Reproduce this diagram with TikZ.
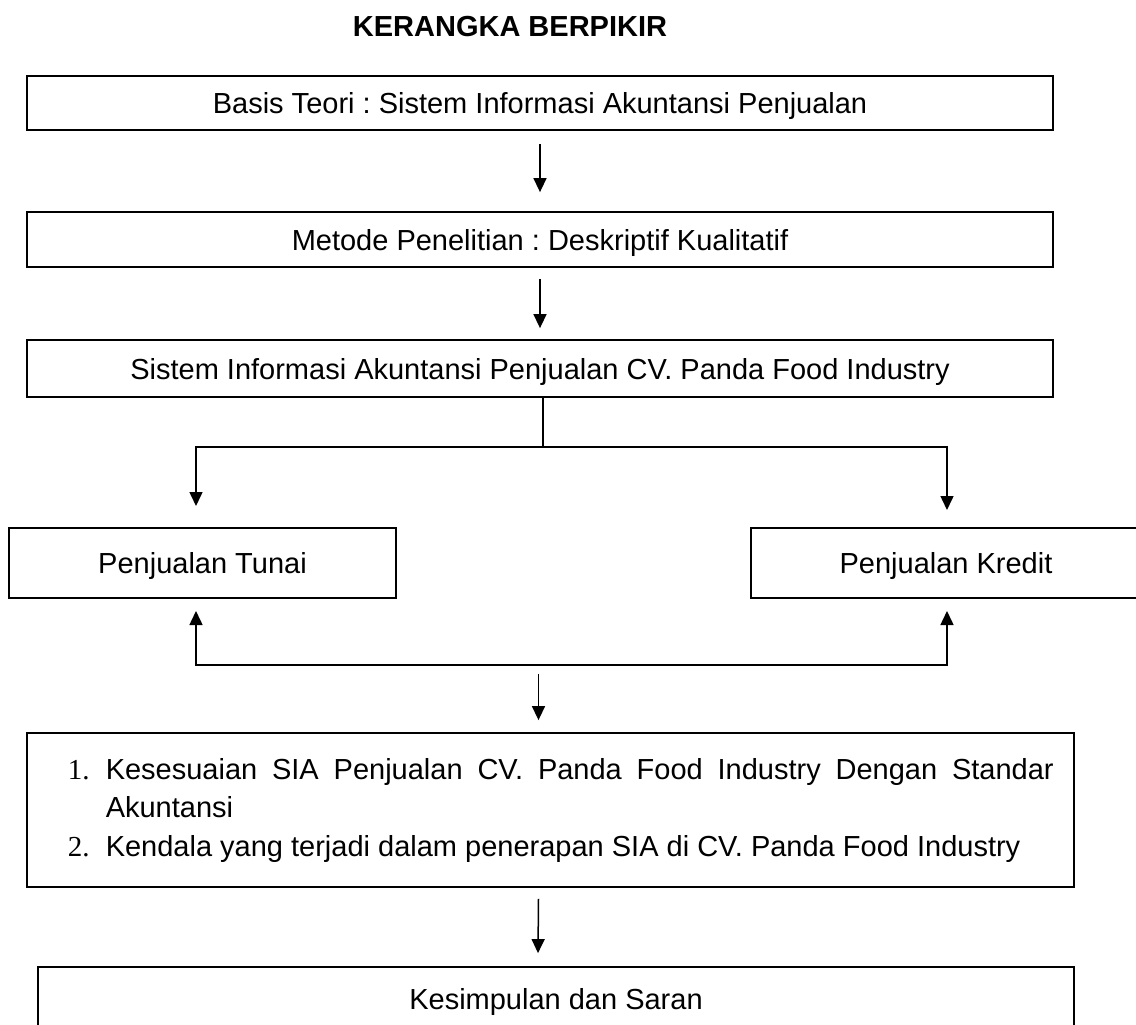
\documentclass[tikz,border=0pt]{standalone}
\usepackage{fontspec}
\setmainfont{Liberation Sans}
\newfontfamily\angka{Liberation Serif}
\usetikzlibrary{arrows.meta,calc}
\frenchspacing
\tikzset{
  kotak/.style={draw, line width=1.8pt, inner sep=0pt, text depth=0pt, font=\fontsize{29}{38}\selectfont},
  teks/.style={inner sep=0pt, anchor=base west, font=\fontsize{29}{38}\selectfont}
}
\begin{document}
\begin{tikzpicture}[>={Triangle[length=14pt,width=13pt]}, x=1pt, y=-1pt, line width=1.5pt]
\clip (0,0) rectangle (1136,1025);
\fill[white] (0,0) rectangle (1136,1025);
% Judul
\node[font=\bfseries\fontsize{29}{35}\selectfont] (judul) at (510,27) {KERANGKA BERPIKIR};
% Kotak atas
\node[kotak, minimum width=1026pt, minimum height=54pt] (basis) at (540,103) {Basis Teori : Sistem Informasi Akuntansi Penjualan};
\node[kotak, minimum width=1026pt, minimum height=55pt] (metode) at (540,239.5) {Metode Penelitian : Deskriptif Kualitatif};
\node[kotak, minimum width=1026pt, minimum height=57pt] (sistem) at (540,368.5) {Sistem Informasi Akuntansi Penjualan CV. Panda Food Industry};
\draw[->] ([yshift=-13pt]basis.south) -- ([yshift=19pt]metode.north);
\draw[->] ([yshift=-11pt]metode.south) -- ([yshift=11pt]sistem.north);
% Cabang
\node[kotak, minimum width=387pt, minimum height=70pt] (tunai) at (202.5,563) {Penjualan Tunai};
\node[kotak, minimum width=390pt, minimum height=70pt] (kredit) at (946,563) {Penjualan Kredit};
\coordinate (cabang) at (543,447);
\coordinate (masukT) at (196,506);
\coordinate (masukK) at (947,510);
\draw (sistem.south -| cabang) -- (cabang);
\draw[->] (cabang) -| (masukT);
\draw[->] (cabang) -| (masukK);
\coordinate (keluarT) at (196,611);
\coordinate (keluarK) at (947,611);
\coordinate (bawahK) at (947,665);
\draw[<->] (keluarT) |- (bawahK) -- (keluarK);
% Rumusan
\node[kotak, minimum width=1047pt, minimum height=154pt] (kendala) at (550.5,810) {};
\node[teks] (no1) at (67,779) {\angka 1.};
\node[teks] (butir1) at (105,779) {\makebox[948pt][s]{Kesesuaian SIA Penjualan CV. Panda Food Industry Dengan Standar}};
\node[teks] (butir1b) at (105,817) {Akuntansi};
\node[teks] (no2) at (67,856) {\angka 2.};
\node[teks] (butir2) at (105,856) {Kendala yang terjadi dalam penerapan SIA di CV. Panda Food Industry};
\draw[->] ($(kendala.north)+(-12,-58)$) -- ($(kendala.north)+(-12,-12)$);
% Kesimpulan
\node[kotak, minimum width=1036pt, minimum height=63pt] (kesimpulan) at (556,998.5) {Kesimpulan dan Saran};
\draw[->] ($(kendala.south)+(-12,11)$) -- ($(kesimpulan.north)+(-18,-13)$);
\end{tikzpicture}
\end{document}
